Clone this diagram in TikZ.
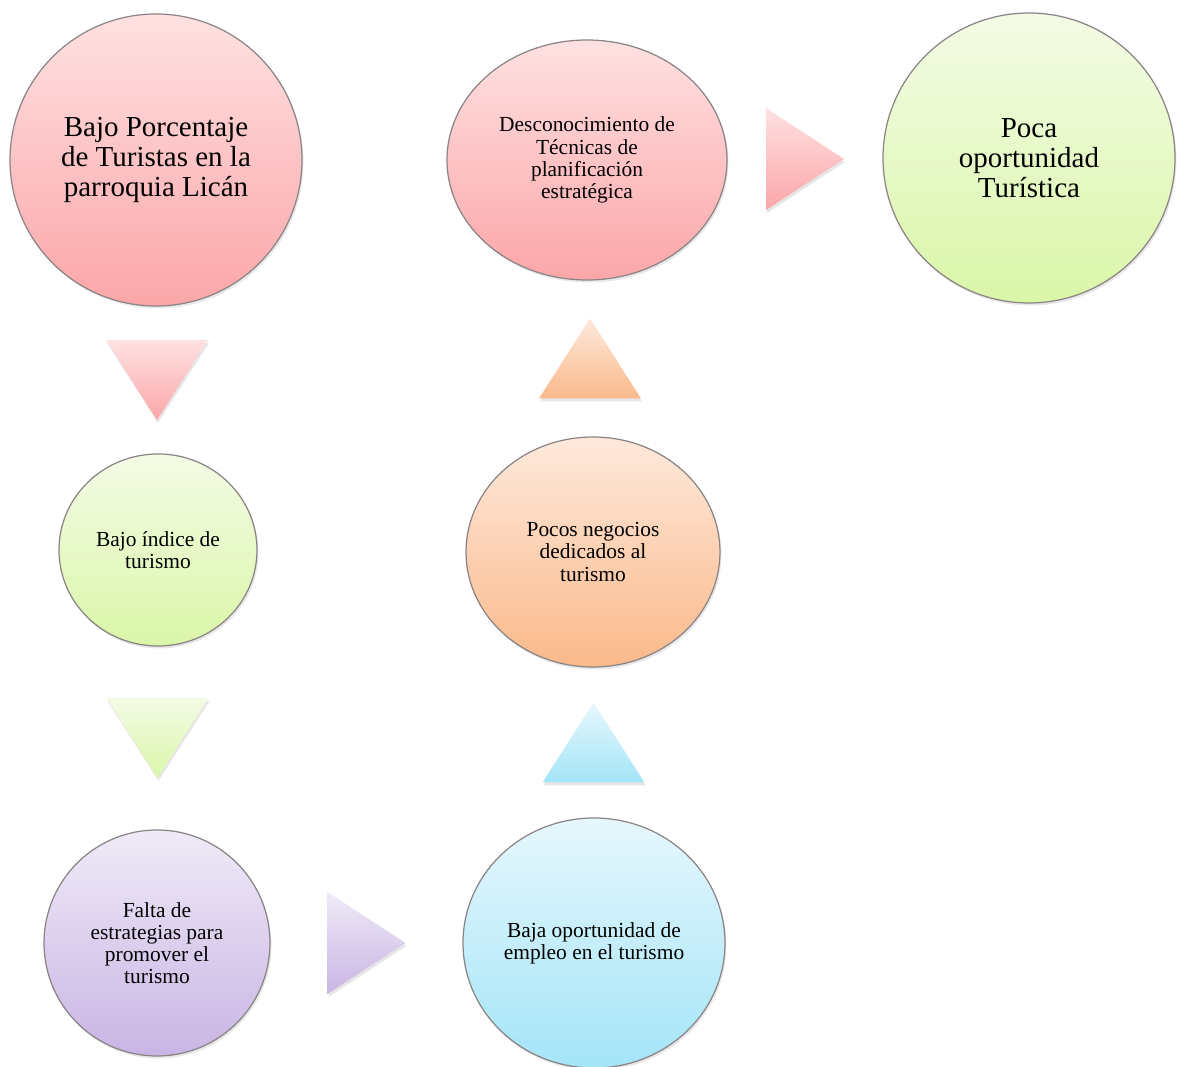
\documentclass[tikz,border=0pt]{standalone}
\usepackage{fontspec}
\setmainfont{Liberation Serif}
\usepackage{tikz}
\usetikzlibrary{shapes, calc, positioning, shadows}
\definecolor{rosaA}{HTML}{FFE1E2}
\definecolor{rosaB}{HTML}{FBA6A9}
\definecolor{verdeA}{HTML}{F4FBE6}
\definecolor{verdeB}{HTML}{DAF6A8}
\definecolor{naranjaA}{HTML}{FEE9DC}
\definecolor{naranjaB}{HTML}{FAB98A}
\definecolor{moradoA}{HTML}{EFEAF7}
\definecolor{moradoB}{HTML}{C9B5E4}
\definecolor{celesteA}{HTML}{E6F7FC}
\definecolor{celesteB}{HTML}{A4E5F8}
\definecolor{borde}{HTML}{8A8484}
\tikzset{
	every node/.style={
		font=\fontsize{12.2}{12.6}\selectfont
	},
	problema/.style={
		shape=ellipse,
		draw=borde,
		line width=0.7pt,
		align=center,
		inner sep=0pt,
		drop shadow={opacity=0.18, shadow xshift=0.03cm, shadow yshift=-0.05cm},
	},
	grande/.style={
		font=\fontsize{16.5}{17.2}\selectfont
	},
	rosa/.style={top color=rosaA, bottom color=rosaB},
	verde/.style={top color=verdeA, bottom color=verdeB},
	naranja/.style={top color=naranjaA, bottom color=naranjaB},
	morado/.style={top color=moradoA, bottom color=moradoB},
	celeste/.style={top color=celesteA, bottom color=celesteB},
	flecha/.style={
		draw=none,
		drop shadow={opacity=0.2, shadow xshift=0.02cm, shadow yshift=-0.06cm},
	},
}

\begin{document}
\begin{tikzpicture}

\useasboundingbox (0,0) rectangle (23.54,-21.34);

\node [problema, rosa, grande, minimum width=5.84cm, minimum height=5.84cm] (porcentaje) at (3.12,-3.2) {Bajo Porcentaje\\de Turistas en la\\parroquia Licán};
\node [problema, rosa, minimum width=5.6cm, minimum height=4.8cm] (tecnicas) at (11.74,-3.2) {Desconocimiento de\\Técnicas de\\planificación\\estratégica};
\node [problema, verde, grande, minimum width=5.84cm, minimum height=5.8cm] (oportunidad) at (20.58,-3.16) {Poca\\oportunidad\\Turística};
\node [problema, verde, minimum width=3.96cm, minimum height=3.84cm] (indice) at (3.16,-11.0) {Bajo índice de\\turismo};
\node [problema, naranja, minimum width=5.08cm, minimum height=4.6cm] (negocios) at (11.86,-11.04) {Pocos negocios\\dedicados al\\turismo};
\node [problema, morado, minimum width=4.52cm, minimum height=4.52cm] (estrategias) at (3.14,-18.86) {Falta de\\estrategias para\\promover el\\turismo};
\node [problema, celeste, minimum width=5.24cm, minimum height=5.0cm] (empleo) at (11.88,-18.86) {Baja oportunidad de\\empleo en el turismo};

\coordinate (f1) at ($(porcentaje.south)!0.5!(indice.north)$);
\coordinate (f2) at ($(indice.south)!0.5!(estrategias.north)$);
\coordinate (f3) at ($(estrategias.east)!0.5!(empleo.west)$);
\coordinate (f4) at ($(empleo.north)!0.5!(negocios.south)$);
\coordinate (f5) at ($(negocios.north)!0.5!(tecnicas.south)$);
\coordinate (f6) at ($(tecnicas.east)!0.5!(oportunidad.west)$);

\shade [flecha, rosa] ($(f1)+(-1.02,0.8)$) -- ($(f1)+(1.02,0.8)$) -- ($(f1)+(0,-0.8)$) -- cycle;
\shade [flecha, verde] ($(f2)+(-1.02,0.8)$) -- ($(f2)+(1.02,0.8)$) -- ($(f2)+(0,-0.8)$) -- cycle;
\shade [flecha, morado] ($(f3)+(-0.78,1.02)$) -- ($(f3)+(0.78,0)$) -- ($(f3)+(-0.78,-1.02)$) -- cycle;
\shade [flecha, celeste] ($(f4)+(-1.02,-0.8)$) -- ($(f4)+(1.02,-0.8)$) -- ($(f4)+(0,0.8)$) -- cycle;
\shade [flecha, naranja] ($(f5)+(-1.02,-0.8)$) -- ($(f5)+(1.02,-0.8)$) -- ($(f5)+(0,0.8)$) -- cycle;
\shade [flecha, rosa] ($(f6)+(-0.78,1.02)$) -- ($(f6)+(0.78,0)$) -- ($(f6)+(-0.78,-1.02)$) -- cycle;

\end{tikzpicture}
\end{document}
